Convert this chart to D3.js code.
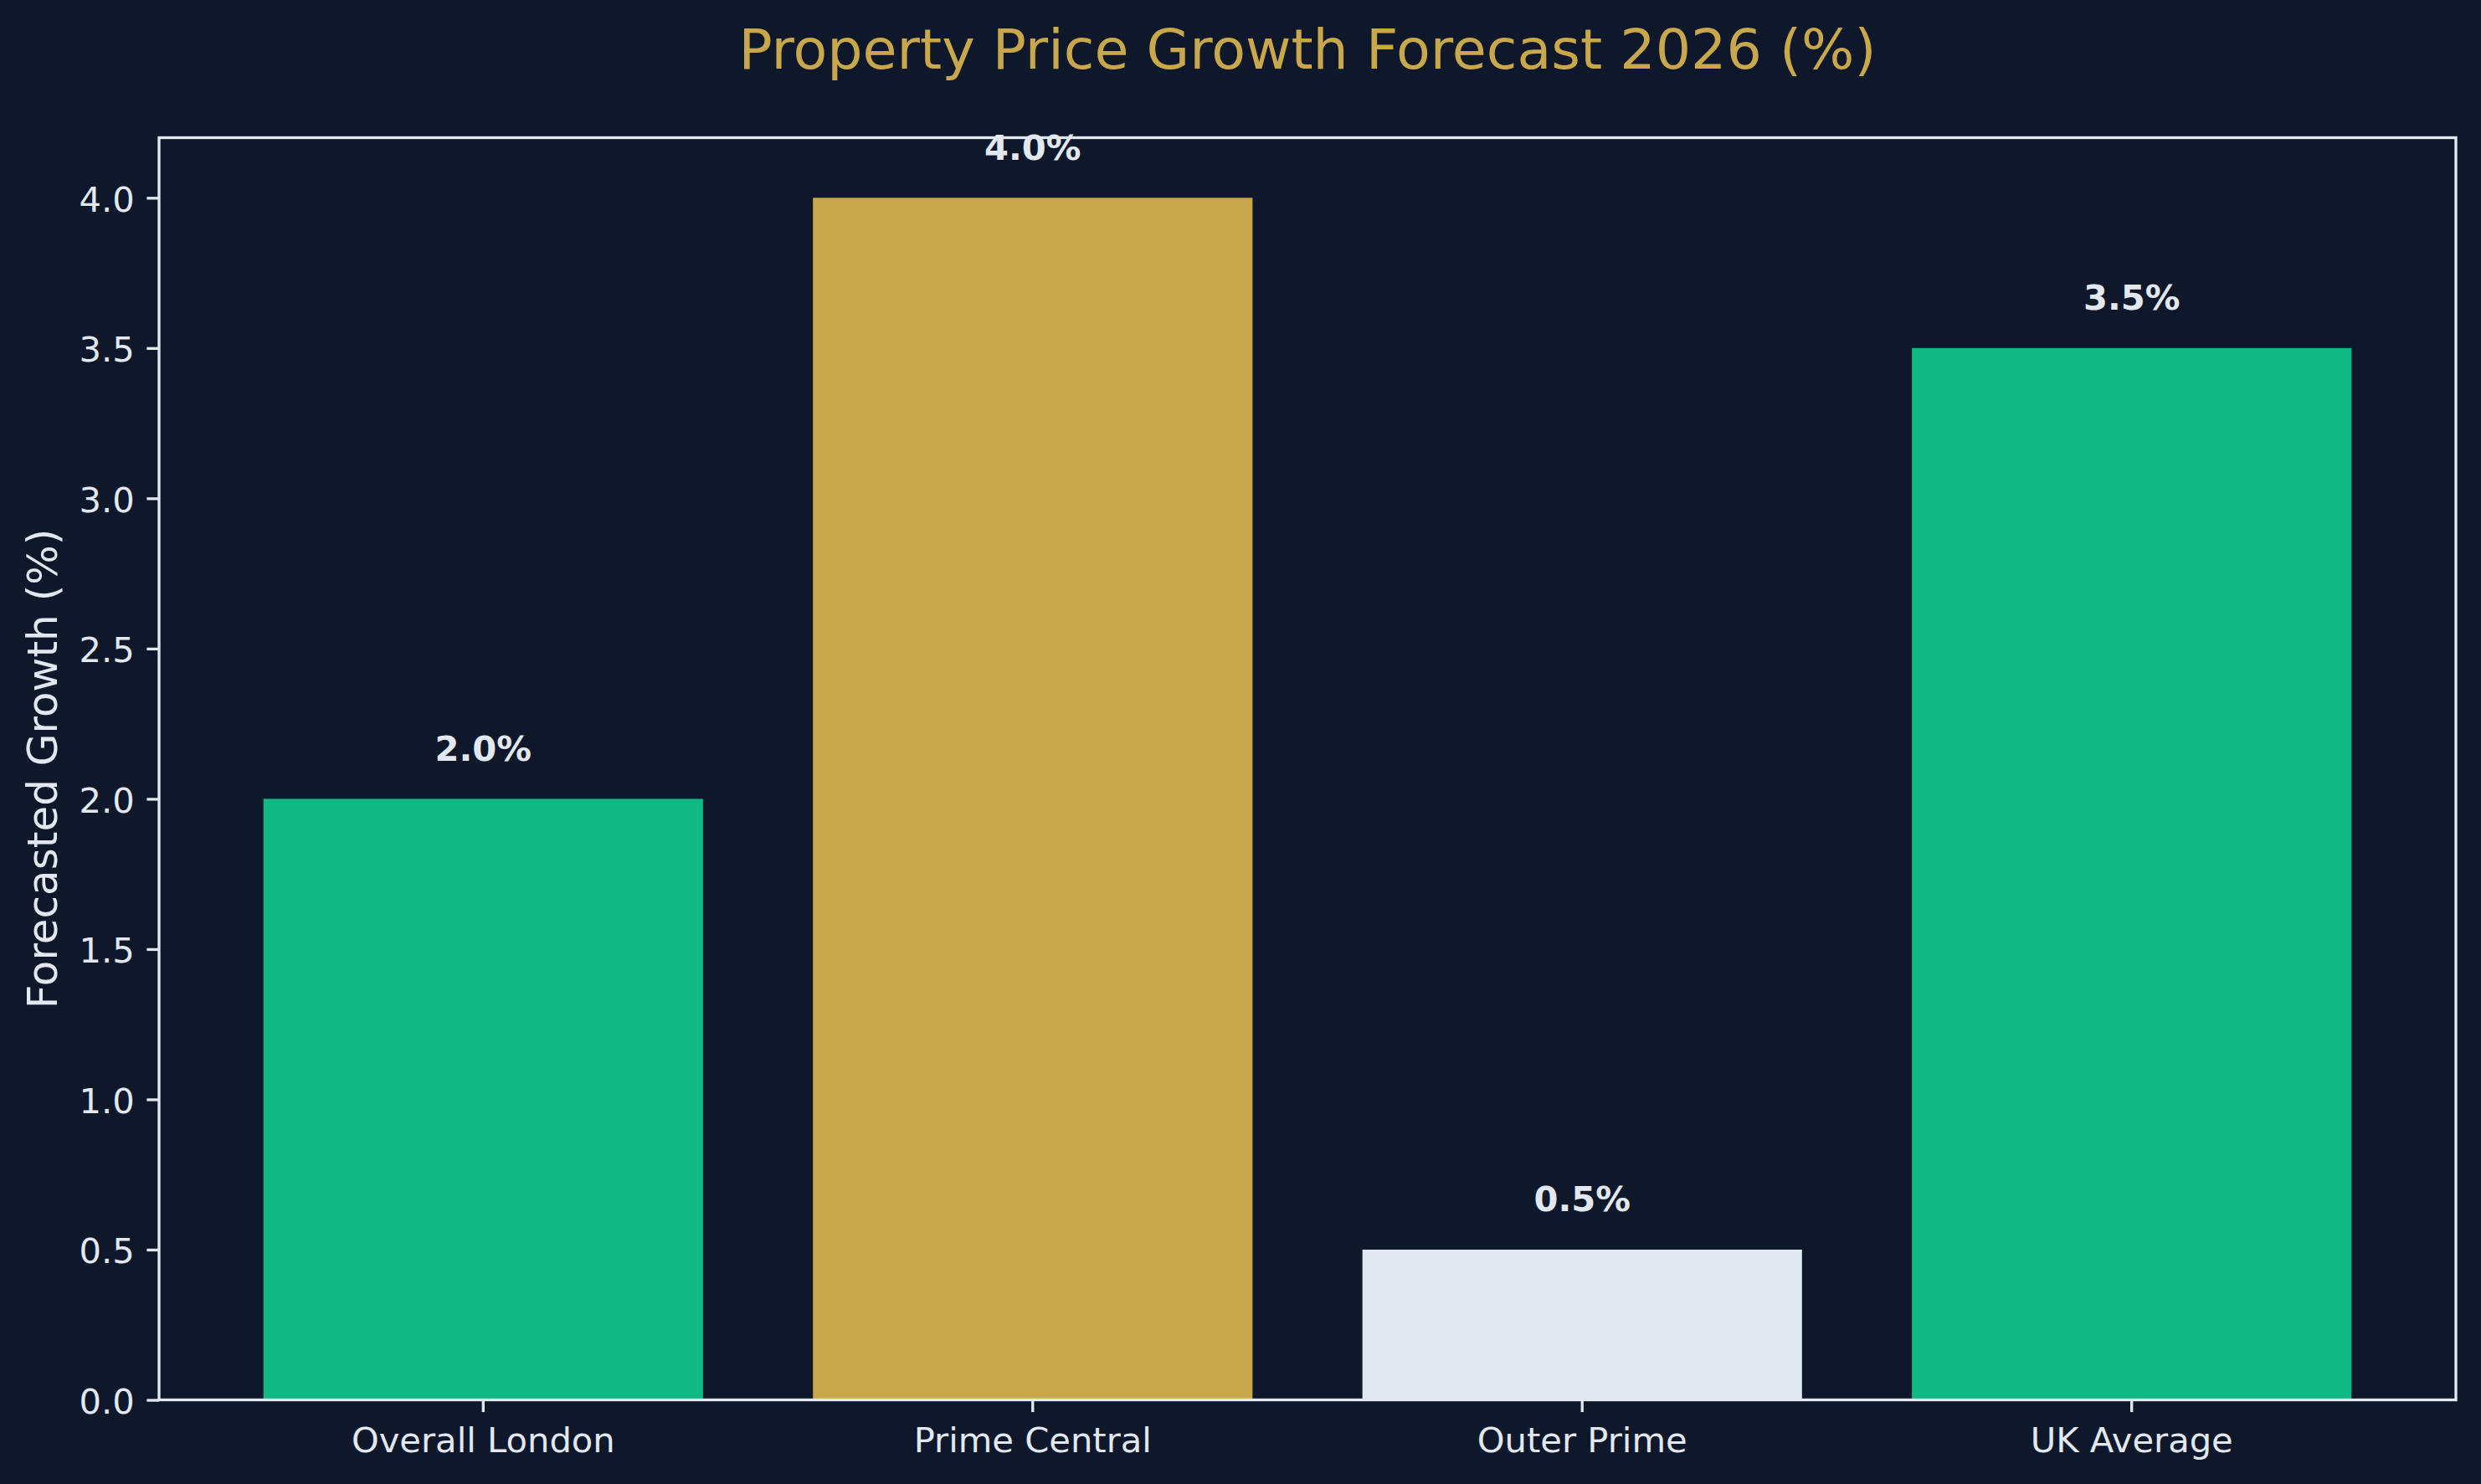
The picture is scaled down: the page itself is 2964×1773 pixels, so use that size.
<!DOCTYPE html>
<html>
<head>
<meta charset="utf-8">
<script src="https://cdn.jsdelivr.net/npm/d3@7"></script>
<style>
    body { margin: 0; background: #0f172a; }
    svg { display: block; }
</style>
</head>
<body>
<div id="chart"></div>
<script>
// data
const categories = ['Overall London', 'Prime Central', 'Outer Prime', 'UK Average'];
const growth = [2.0, 4.0, 0.5, 3.5];
const barColors = ['#10b981', '#c9a84c', '#e2e8f0', '#10b981'];
const yTicks = [0.0, 0.5, 1.0, 1.5, 2.0, 2.5, 3.0, 3.5, 4.0];

let width = 2964,
    height = 1773,
    margin = {top: 164.5, right: 30, bottom: 100.5, left: 190},
    chartWidth = width - margin.left - margin.right,
    chartHeight = height - margin.top - margin.bottom,
    textColor = '#e2e8f0',
    lw = 3.33,
    tickLen = 14.6;

let svg = d3.select('#chart').append('svg')
    .attr('width', width)
    .attr('height', height)
    .style('font-family', '"DejaVu Sans", sans-serif');

svg.append('rect')
    .attr('width', width)
    .attr('height', height)
    .attr('fill', '#0f172a');

let g = svg.append('g')
    .attr('transform', `translate(${margin.left}, ${margin.top})`);

let scaleX = d3.scaleBand()
    .domain(categories)
    .range([0, chartWidth])
    .paddingInner(0.2)
    .paddingOuter(0.19);

let scaleY = d3.scaleLinear()
    .domain([0, 4.2])
    .range([chartHeight, 0]);

// bars
g.selectAll('rect.bar')
    .data(categories)
    .enter()
    .append('rect')
    .attr('class', 'bar')
    .attr('x', (d) => scaleX(d))
    .attr('y', (d, i) => scaleY(growth[i]))
    .attr('width', scaleX.bandwidth())
    .attr('height', (d, i) => chartHeight - scaleY(growth[i]))
    .attr('fill', (d, i) => barColors[i]);

// value labels
g.selectAll('text.value')
    .data(categories)
    .enter()
    .append('text')
    .attr('class', 'value')
    .attr('x', (d) => scaleX(d) + scaleX.bandwidth() / 2)
    .attr('y', (d, i) => scaleY(growth[i] + 0.1) - 9.8)
    .attr('text-anchor', 'middle')
    .attr('fill', textColor)
    .attr('font-size', 41.67)
    .attr('font-weight', 'bold')
    .text((d, i) => growth[i].toFixed(1) + '%');

// axes
let xAxis = g.append('g')
    .attr('transform', `translate(0, ${chartHeight})`)
    .call(d3.axisBottom(scaleX).tickSize(tickLen).tickSizeOuter(0));

xAxis.selectAll('text')
    .attr('y', 62.5)
    .attr('dy', null)
    .attr('fill', textColor)
    .attr('font-size', 41.67);

let yAxis = g.append('g')
    .call(d3.axisLeft(scaleY).tickValues(yTicks).tickFormat(d3.format('.1f')).tickSize(tickLen).tickSizeOuter(0));

yAxis.selectAll('text')
    .attr('x', -(tickLen * 2))
    .attr('dy', '0.38em')
    .attr('fill', textColor)
    .attr('font-size', 41.67);

[xAxis, yAxis].forEach((ax) => {
    ax.attr('font-family', null);
    ax.select('.domain').remove();
    ax.selectAll('.tick line')
        .attr('stroke', textColor)
        .attr('stroke-width', lw);
});

// frame
g.append('rect')
    .attr('width', chartWidth)
    .attr('height', chartHeight)
    .attr('fill', 'none')
    .attr('stroke', textColor)
    .attr('stroke-width', lw);

// title and axis label
svg.append('text')
    .attr('x', margin.left + chartWidth / 2)
    .attr('y', 82)
    .attr('text-anchor', 'middle')
    .attr('fill', '#c9a84c')
    .attr('font-size', 66.67)
    .text('Property Price Growth Forecast 2026 (%)');

svg.append('text')
    .attr('transform', `translate(68, ${margin.top + chartHeight / 2}) rotate(-90)`)
    .attr('text-anchor', 'middle')
    .attr('fill', textColor)
    .attr('font-size', 50)
    .text('Forecasted Growth (%)');
</script>
</body>
</html>
